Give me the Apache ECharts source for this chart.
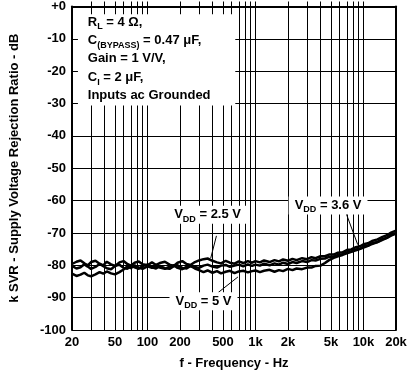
<!DOCTYPE html>
<html>
<head>
<meta charset="utf-8">
<script src="https://cdn.jsdelivr.net/npm/echarts@6/dist/echarts.min.js"></script>
<style>
html, body { margin: 0; padding: 0; background: #fff; }
#main { width: 411px; height: 377px; }
</style>
</head>
<body>
<div id="main"></div>
<script>
// frequency points (Hz)
var freqs = [20, 22, 24, 26, 28, 30, 33, 36, 39, 42, 46, 50, 55, 60, 65, 70, 76, 83, 90, 100,
    110, 120, 130, 145, 160, 175, 190, 210, 230, 250, 275, 300, 330, 360, 400, 440, 480, 530, 580, 640,
    700, 770, 850, 930, 1000, 1100, 1200, 1350, 1500, 1650, 1800, 2000, 2200, 2400, 2700, 3000, 3300, 3600,
    4000, 4400, 4800, 5300, 5800, 6400, 7000, 7700, 8500, 9300, 10000, 11000, 12000, 13500, 15000, 16500, 18000, 20000];

// kSVR (dB)
var vdd25 = [-79.6, -78.9, -78.5, -79.4, -80.0, -79.0, -78.6, -79.5, -80.0, -78.9, -79.7, -80.2, -79.1, -78.7, -79.6, -80.1, -79.2, -78.8, -79.7, -80.0,
    -79.1, -79.9, -79.3, -78.9, -79.8, -80.2, -79.2, -78.7, -79.6, -79.9, -79.0, -78.5, -78.1, -77.9, -78.6, -79.1, -79.4, -78.6, -79.2, -79.5,
    -78.8, -79.3, -78.7, -79.2, -78.7, -79.1, -78.5, -79.0, -78.4, -78.8, -78.2, -78.6, -78.0, -78.4, -77.8, -78.1, -77.5, -77.8,
    -77.2, -77.2, -76.7, -76.7, -76.1, -76.0, -75.3, -75.1, -74.4, -74.1, -73.5, -73.2, -72.5, -72.0, -71.2, -70.7, -69.9, -69.3];
var vdd36 = [-80.2, -81.0, -80.6, -79.7, -80.4, -81.1, -80.5, -79.6, -80.3, -80.9, -81.2, -80.2, -79.8, -80.8, -81.1, -80.1, -80.6, -81.1, -80.2, -79.8,
    -80.6, -81.0, -80.2, -80.9, -81.1, -80.3, -80.0, -80.8, -81.0, -80.2, -80.5, -80.8, -80.1, -79.8, -80.4, -80.7, -80.1, -79.9, -80.5, -80.1,
    -79.8, -80.3, -79.7, -80.2, -79.8, -80.1, -79.5, -80.0, -79.4, -79.8, -79.2, -79.6, -79.0, -79.3, -78.7, -79.0, -78.4, -78.5,
    -78.0, -77.9, -77.4, -77.3, -76.8, -76.6, -76.0, -75.8, -75.1, -74.9, -74.2, -73.9, -73.2, -72.8, -71.9, -71.5, -70.6, -70.0];
var vdd5 = [-82.6, -83.3, -82.9, -82.3, -83.1, -83.4, -82.8, -82.1, -82.6, -81.9, -82.5, -82.8, -82.1, -81.3, -80.4, -80.9, -80.0, -80.7, -81.1, -80.3,
    -80.8, -80.1, -80.7, -81.1, -80.4, -80.0, -80.8, -81.2, -80.5, -80.2, -81.0, -81.5, -82.1, -81.6, -82.3, -81.8, -82.5, -82.0, -81.7, -82.4,
    -81.9, -81.7, -82.2, -81.8, -81.6, -82.1, -81.7, -81.4, -82.0, -81.5, -81.8, -81.1, -81.5, -81.0, -81.2, -80.7, -80.7, -80.2,
    -80.1, -79.3, -78.4, -77.7, -77.2, -76.8, -76.3, -75.8, -75.4, -74.9, -74.5, -74.0, -73.4, -72.8, -72.1, -71.5, -70.8, -70.2];

// axis ticks
var xLabelFreqs = [20, 50, 100, 200, 500, 1000, 2000, 5000, 10000, 20000];
var xGridFreqs = [30, 40, 50, 60, 70, 80, 90, 100, 200, 300, 400, 500, 600, 700, 800, 900,
    1000, 2000, 3000, 4000, 5000, 6000, 7000, 8000, 9000, 10000];

var FONT = '"Liberation Sans", Arial, Helvetica, sans-serif';
var BLACK = '#000';

function pairs(vals) {
    return freqs.map(function (f, i) { return [f, vals[i]]; });
}

var myChart = echarts.init(document.getElementById('main'), null, { renderer: 'canvas' });

var curveStyle = { color: BLACK, width: 2.5 };

var option = {
    animation: false,
    textStyle: { fontFamily: FONT },
    grid: { left: 66, right: 15, top: 3, bottom: 47 },
    xAxis: [
        {
            type: 'log',
            logBase: 10,
            min: 20,
            max: 20000,
            name: 'f - Frequency - Hz',
            nameLocation: 'middle',
            nameGap: 27,
            nameTextStyle: { color: BLACK, fontSize: 13, fontWeight: 'bold', fontFamily: FONT },
            axisLine: { show: true, lineStyle: { color: BLACK, width: 2 } },
            axisTick: { show: true, inside: true, length: 5, customValues: xGridFreqs, lineStyle: { color: BLACK } },
            axisLabel: {
                color: BLACK, fontSize: 13, fontWeight: 'bold', fontFamily: FONT, margin: 6,
                customValues: xLabelFreqs,
                formatter: function (v) { return v >= 1000 ? (Math.round(v / 1000) + 'k') : String(Math.round(v)); }
            },
            splitLine: { show: false },
            minorSplitLine: { show: false }
        },
        {
            type: 'log',
            logBase: 10,
            min: 20,
            max: 20000,
            position: 'top',
            axisLine: { show: true, lineStyle: { color: BLACK, width: 2 } },
            axisTick: { show: true, inside: true, length: 7, customValues: xGridFreqs, lineStyle: { color: BLACK } },
            axisLabel: { show: false },
            splitLine: { show: false }
        }
    ],
    yAxis: [
        {
            type: 'value',
            min: -100,
            max: 0,
            interval: 10,
            name: 'k SVR - Supply Voltage Rejection Ratio - dB',
            nameLocation: 'middle',
            nameGap: 51,
            nameTextStyle: { color: BLACK, fontSize: 13, fontWeight: 'bold', fontFamily: FONT },
            axisLine: { show: true, lineStyle: { color: BLACK, width: 2 } },
            axisTick: { show: true, inside: true, length: 5, lineStyle: { color: BLACK } },
            axisLabel: {
                color: BLACK, fontSize: 13, fontWeight: 'bold', fontFamily: FONT, margin: 6,
                formatter: function (v) { return v === 0 ? '+0' : String(v); }
            },
            splitLine: { show: true, lineStyle: { color: BLACK, width: 1 } }
        },
        {
            type: 'value',
            min: -100,
            max: 0,
            interval: 10,
            position: 'right',
            axisLine: { show: true, lineStyle: { color: BLACK, width: 2 } },
            axisTick: { show: true, inside: true, length: 5, lineStyle: { color: BLACK } },
            axisLabel: { show: false },
            splitLine: { show: false }
        }
    ],
    series: [
        {
            // vertical log grid
            name: 'grid',
            type: 'line',
            data: [],
            z: 1,
            markLine: {
                silent: true,
                symbol: 'none',
                label: { show: false },
                lineStyle: { color: BLACK, width: 1, type: 'solid' },
                data: xGridFreqs.map(function (f) { return { xAxis: f }; })
            }
        },
        { name: 'VDD = 5 V', type: 'line', data: pairs(vdd5), showSymbol: false, lineStyle: curveStyle, z: 3 },
        { name: 'VDD = 3.6 V', type: 'line', data: pairs(vdd36), showSymbol: false, lineStyle: curveStyle, z: 3 },
        { name: 'VDD = 2.5 V', type: 'line', data: pairs(vdd25), showSymbol: false, lineStyle: curveStyle, z: 3 },
        {
            // pointer arrows from the labels to the curves
            name: 'arrows',
            type: 'line',
            data: [],
            z: 4,
            markLine: {
                silent: true,
                symbol: ['none', 'triangle'],
                symbolSize: [0, 7],
                label: { show: false },
                lineStyle: { color: BLACK, width: 1, type: 'solid' },
                data: [
                    [{ coord: [435, -70.9] }, { coord: [385, -77.8] }],
                    [{ coord: [6900, -63.9] }, { coord: [8840, -73.6] }],
                    [{ coord: [452, -88.4] }, { coord: [688, -83.6] }]
                ]
            }
        }
    ]
};

myChart.setOption(option);

// annotation text (positions given in data space, converted to pixels)
var richBase = {
    n: { fontSize: 13, fontWeight: 'bold', fontFamily: FONT, lineHeight: 18, color: BLACK },
    s: { fontSize: 9, fontWeight: 'bold', fontFamily: FONT, lineHeight: 18, verticalAlign: 'bottom', color: BLACK }
};

var boxLines = [
    '{n|R}{s|L}{n| = 4 Ω,}',
    '{n|C}{s|(BYPASS)}{n| = 0.47 μF,}',
    '{n|Gain = 1 V/V,}',
    '{n|C}{s|I}{n| = 2 μF,}',
    '{n|Inputs ac Grounded}'
];
var boxLineDb = [-4.9, -10.6, -16.2, -22.0, -27.6];

var curveLabels = [
    { text: '{n|V}{s|DD}{n| = 2.5 V}', at: [360, -64.4] },
    { text: '{n|V}{s|DD}{n| = 3.6 V}', at: [4700, -61.5] },
    { text: '{n|V}{s|DD}{n| = 5 V}', at: [330, -91.1] }
];

function px(f, db) {
    return myChart.convertToPixel({ xAxisIndex: 0, yAxisIndex: 0 }, [f, db]);
}

var graphics = [];
var tl = px(22.7, -2.4);
var br = px(650, -30.6);
graphics.push({
    type: 'rect', z: 100,
    shape: { x: tl[0], y: tl[1], width: br[0] - tl[0], height: br[1] - tl[1] },
    style: { fill: '#fff' }
});
boxLines.forEach(function (t, i) {
    var p = px(28, boxLineDb[i]);
    graphics.push({
        type: 'text', z: 101, x: p[0], y: p[1],
        style: { text: t, rich: richBase, align: 'left', verticalAlign: 'middle' }
    });
});
curveLabels.forEach(function (l) {
    var p = px(l.at[0], l.at[1]);
    graphics.push({
        type: 'text', z: 101, x: p[0], y: p[1],
        style: {
            text: l.text, rich: richBase, align: 'center', verticalAlign: 'middle',
            backgroundColor: '#fff', padding: [0, 6, 0, 6]
        }
    });
});

myChart.setOption({ graphic: graphics });
</script>
</body>
</html>
